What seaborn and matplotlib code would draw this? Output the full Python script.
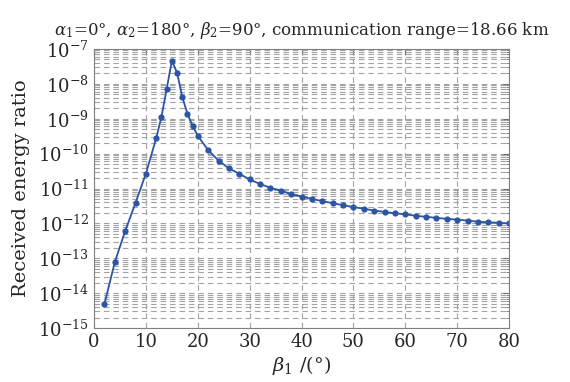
import numpy as np
import pandas as pd
import matplotlib
matplotlib.use("Agg")
import matplotlib.pyplot as plt
import matplotlib.ticker as mticker
import seaborn as sns

beta1 = [2, 4, 6, 8, 10, 12, 13, 14, 15, 16, 17, 18, 19, 20,
         22, 24, 26, 28, 30, 32, 34, 36, 38, 40, 42, 44, 46, 48, 50,
         52, 54, 56, 58, 60, 62, 64, 66, 68, 70, 72, 74, 76, 78, 80]
log_ratio = [-14.31, -13.11, -12.22, -11.41, -10.57, -9.55, -8.94, -8.15, -7.34,
             -7.68, -8.37, -8.86, -9.21, -9.49,
             -9.90, -10.20, -10.42, -10.58, -10.74, -10.87, -10.98, -11.06, -11.16,
             -11.23, -11.30, -11.36, -11.42, -11.48, -11.53,
             -11.58, -11.63, -11.67, -11.71, -11.74, -11.78, -11.81, -11.84, -11.87,
             -11.89, -11.92, -11.95, -11.97, -11.98, -12.00]
ratio = [10.0 ** v for v in log_ratio]

title = r"$\alpha_1$=0°, $\alpha_2$=180°, $\beta_2$=90°, communication range=18.66 km"
xlabel = r"$\beta_1$ /(°)"
ylabel = "Received energy ratio"

df = pd.DataFrame({"beta1": beta1, "ratio": ratio})

sns.set_style("white")
plt.rcParams["font.family"] = ["DejaVu Serif"]
plt.rcParams["mathtext.fontset"] = "dejavuserif"

fig = plt.figure(figsize=(5.7, 3.82), dpi=100)
ax = fig.add_axes([0.165, 0.141, 0.728, 0.731])

sns.lineplot(data=df, x="beta1", y="ratio", ax=ax, color="#2c55a6",
             marker="o", markersize=4.5, markeredgewidth=0, linewidth=1.3)

ax.set_yscale("log")
ax.set_xlim(0, 80)
ax.set_ylim(1e-15, 1e-7)
ax.set_xticks(range(0, 81, 10))
ax.yaxis.set_major_locator(mticker.LogLocator(base=10, numticks=20))
ax.yaxis.set_minor_locator(mticker.LogLocator(base=10, subs=np.arange(2, 10), numticks=20))
ax.yaxis.set_minor_formatter(mticker.NullFormatter())

ax.grid(True, which="major", axis="both", linestyle=(0, (5, 3.5)), color="#a3a3a3", linewidth=0.8)
ax.grid(True, which="minor", axis="y", linestyle=(0, (5, 3.5)), color="#a3a3a3", linewidth=0.8)

for s in ax.spines.values():
    s.set_color("#808080")
    s.set_linewidth(0.8)

ax.tick_params(which="both", direction="in", top=True, right=True, color="#707070")
ax.tick_params(which="major", length=4, labelsize=13)
ax.tick_params(which="minor", length=2)

ax.set_title(title, fontsize=12, pad=10)
ax.set_xlabel(xlabel, fontsize=14, labelpad=2)
ax.set_ylabel(ylabel, fontsize=14, labelpad=6)

fig.savefig("out.png", dpi=100)
